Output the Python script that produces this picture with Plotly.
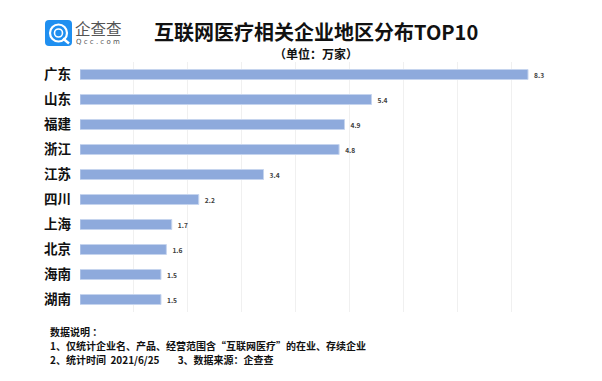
import plotly.graph_objects as go

categories = ["广东", "山东", "福建", "浙江", "江苏", "四川", "上海", "北京", "海南", "湖南"]
values = [8.3, 5.4, 4.9, 4.8, 3.4, 2.2, 1.7, 1.6, 1.5, 1.5]
value_labels = ["8.3", "5.4", "4.9", "4.8", "3.4", "2.2", "1.7", "1.6", "1.5", "1.5"]

title_text = "互联网医疗相关企业地区分布TOP10"
subtitle_text = "（单位：万家）"
notes = [
    "数据说明 ：",
    "1、仅统计企业名、产品、经营范围含“互联网医疗”的在业、存续企业",
    "2、统计时间  2021/6/25        3、数据来源：企查查",
]

W, H = 602, 381
L, R, T, B = 80, 47, 62, 69
PW, PH = W - L - R, H - T - B


def px(x):
    return (x - L) / PW


def py(y):
    return (H - B - y) / PH


FONT = "Noto Sans CJK SC"

fig = go.Figure()
fig.add_trace(go.Bar(
    x=values,
    y=categories,
    orientation="h",
    width=0.4,
    marker=dict(color="#8eaadc", line=dict(color="#c5d4ee", width=1)),
    text=value_labels,
    texttemplate="  %{text}",
    textposition="outside",
    textfont=dict(family=FONT, size=10, color="#404040", weight="bold"),
    cliponaxis=False,
    hoverinfo="skip",
))

fig.update_layout(
    width=W, height=H,
    margin=dict(l=L, r=R, t=T, b=B, pad=0, autoexpand=False),
    paper_bgcolor="white", plot_bgcolor="white",
    showlegend=False,
    xaxis=dict(range=[0, 8.8], dtick=1, showgrid=True, gridcolor="#f0f0f0", gridwidth=1,
               showticklabels=False, zeroline=False, showline=False, ticks="", automargin=False),
    yaxis=dict(autorange="reversed", showgrid=False, zeroline=False, showline=False,
               ticks="", ticklabelstandoff=8, automargin=False,
               tickfont=dict(family=FONT, size=13.5, color="#111111", weight="bold")),
)

# Title and subtitle
fig.add_annotation(x=px(316), y=py(32), xref="paper", yref="paper", text=title_text,
                   showarrow=False, xanchor="center", yanchor="middle",
                   font=dict(family=FONT, size=20, color="#111111", weight="bold"))
fig.add_annotation(x=px(316), y=py(54), xref="paper", yref="paper", text=subtitle_text,
                   showarrow=False, xanchor="center", yanchor="middle",
                   font=dict(family=FONT, size=12, color="#111111", weight="bold"))

# Notes
for i, line in enumerate(notes):
    fig.add_annotation(x=px(48), y=py(331 + i * 14), xref="paper", yref="paper", text=line,
                       showarrow=False, xanchor="left", yanchor="middle",
                       font=dict(family=FONT, size=10, color="#111111", weight="bold"))

# Logo
r = 4
fig.add_shape(type="path", xref="paper", yref="paper",
              path=(f"M {px(45 + r)} {py(20)} L {px(72 - r)} {py(20)} Q {px(72)} {py(20)} {px(72)} {py(20 + r)} "
                    f"L {px(72)} {py(46 - r)} Q {px(72)} {py(46)} {px(72 - r)} {py(46)} "
                    f"L {px(45 + r)} {py(46)} Q {px(45)} {py(46)} {px(45)} {py(46 - r)} "
                    f"L {px(45)} {py(20 + r)} Q {px(45)} {py(20)} {px(45 + r)} {py(20)} Z"),
              fillcolor="#1f8ff0", line=dict(width=0))
fig.add_shape(type="circle", xref="paper", yref="paper",
              x0=px(50), x1=px(67), y0=py(24.5), y1=py(41.5),
              line=dict(color="white", width=2.2))
fig.add_shape(type="circle", xref="paper", yref="paper",
              x0=px(54.5), x1=px(62.5), y0=py(29), y1=py(37),
              line=dict(color="white", width=1.6))
fig.add_shape(type="line", xref="paper", yref="paper",
              x0=px(63), x1=px(69), y0=py(38.5), y1=py(43.5),
              line=dict(color="white", width=2.5))
fig.add_annotation(x=px(73), y=py(28), xref="paper", yref="paper", text="企查查",
                   showarrow=False, xanchor="left", yanchor="middle",
                   font=dict(family=FONT, size=15.5, color="#555555"))
fig.add_annotation(x=px(74), y=py(42), xref="paper", yref="paper", text="Q c c . c o m",
                   showarrow=False, xanchor="left", yanchor="middle",
                   font=dict(family="DejaVu Sans", size=7, color="#555555"))

fig.write_html("out.html", config={"displayModeBar": False},
               post_script="document.body.style.margin='0';")
